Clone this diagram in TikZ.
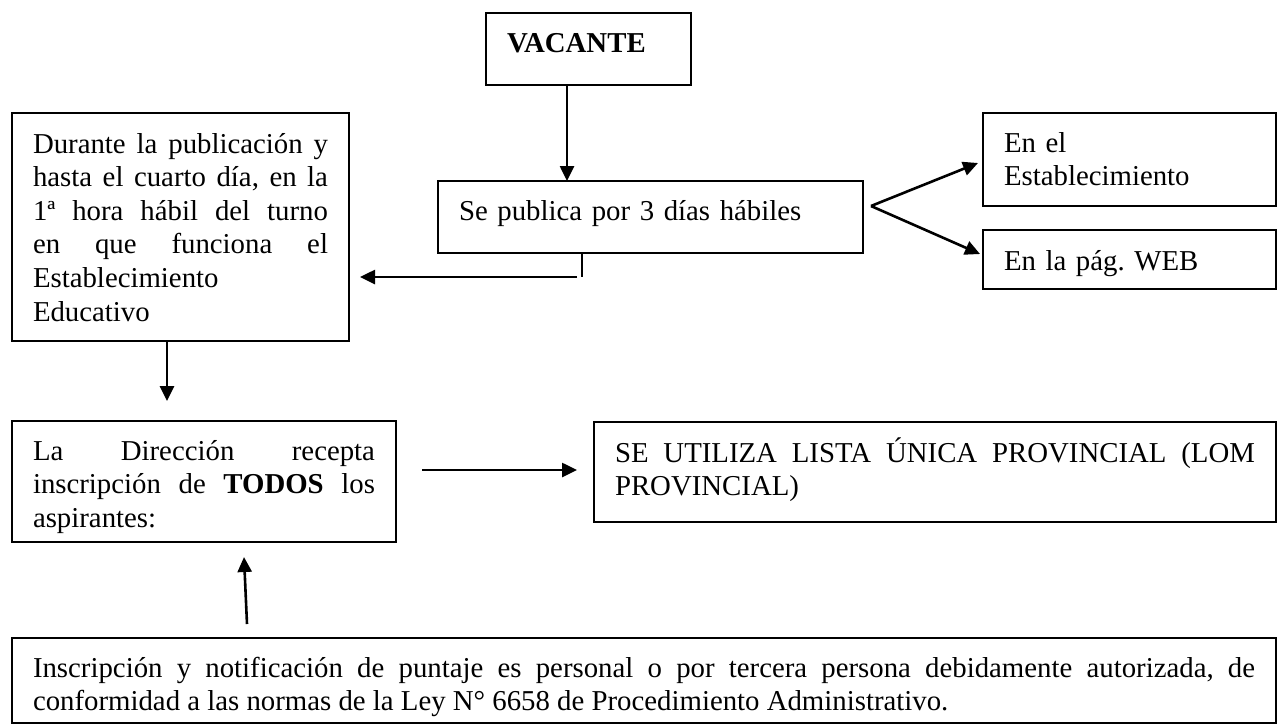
\documentclass[tikz,border=0pt]{standalone}
\usepackage{fontspec}
\setmainfont{Liberation Serif}
\usetikzlibrary{arrows.meta}
\newcommand{\flowfont}{\fontsize{14.4}{16.8}\selectfont\frenchspacing\tolerance=10000\pretolerance=10000\hbadness=10000}

\begin{document}
\begin{tikzpicture}[x=0.5pt, y=-0.5pt,
    flowbox/.style={draw, line width=0.9pt, anchor=north west, outer sep=0pt,
      inner xsep=10.5pt, inner ysep=0pt, font=\flowfont},
    arr/.style={-{Triangle[length=7.5pt,width=7pt]}, line width=1.3pt}]
  \useasboundingbox (0,0) rectangle (1277,724);
  % boxes
  \node[flowbox, text width=81.5pt, text height=19.5pt, text depth=16.5pt, align=left] (vac) at (486,13) {\textbf{VACANTE}};
  \node[flowbox, text width=191.5pt, text height=19.5pt, text depth=16.5pt, align=left] (pub) at (438,181) {Se publica por 3 días hábiles};
  \node[flowbox, text width=147.5pt, text height=20pt, text depth=94pt, align=justify] (dur) at (12,113)
    {Durante la publicación y\linebreak hasta el cuarto día, en la\linebreak 1ª hora hábil del turno\linebreak en que funciona el\linebreak Establecimiento\newline Educativo};
  \node[flowbox, text width=125.5pt, text height=19.5pt, text depth=27pt, align=left] (est) at (983,113) {En el\\Establecimiento};
  \node[flowbox, text width=125.5pt, text height=20pt, text depth=9.5pt, align=left] (web) at (983,230) {En la pág. WEB};
  \node[flowbox, text width=171pt, text height=19.5pt, text depth=41pt, align=justify] (dir) at (12,421)
    {La Dirección recepta\linebreak inscripción de \textbf{TODOS} los\linebreak aspirantes:};
  \node[flowbox, text width=320pt, text height=20pt, text depth=30pt, align=justify] (lista) at (594,422)
    {SE UTILIZA LISTA ÚNICA PROVINCIAL (LOM\linebreak PROVINCIAL)};
  \node[flowbox, text width=611pt, text height=19.5pt, text depth=23pt, align=justify] (foot) at (12,638)
    {Inscripción y notificación de puntaje es personal o por tercera persona debidamente autorizada, de\linebreak conformidad a las normas de la Ley N° 6658 de Procedimiento Administrativo.};
  % connectors
  \draw[arr] ([xshift=-10.75pt]vac.south) -- ([xshift=-41.75pt]pub.north);
  \draw[line width=0.6pt] ([xshift=-34.25pt]pub.south) -- ++(0,24) coordinate (tap);
  \draw[arr] ([xshift=-2.5pt]tap) -- ([xshift=5.5pt]dur.east |- tap);
  \coordinate (fork) at ([xshift=4pt,yshift=5.5pt]pub.east);
  \draw[arr] (fork) -- ([xshift=-2.5pt,yshift=-1.75pt]est.west);
  \draw[arr] (fork) -- ([xshift=-1.5pt,yshift=2.75pt]web.west);
  \draw[arr] ([xshift=-6.75pt]dur.south) -- ([xshift=-18.5pt,yshift=10pt]dir.north);
  \draw[arr] ([xshift=13pt]dir.east |- 0,470) -- ([xshift=-8.5pt]lista.west |- 0,470);
  \draw[arr] ([xshift=-198.5pt,yshift=7pt]foot.north) -- ([xshift=20pt,yshift=-7.5pt]dir.south);
\end{tikzpicture}
\end{document}
